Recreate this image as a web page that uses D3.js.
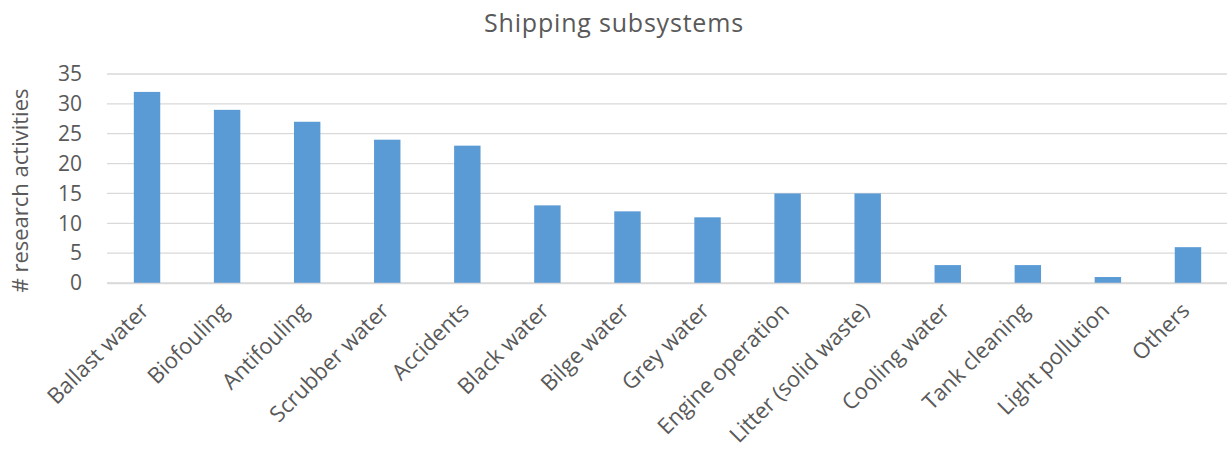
<!DOCTYPE html>
<html>
<head>
<meta charset="utf-8">
<script src="https://cdn.jsdelivr.net/npm/d3@7"></script>
<style>
  html, body { margin: 0; padding: 0; background: #fff; }
  svg { display: block; font-family: "Open Sans", "Liberation Sans", sans-serif; }
</style>
</head>
<body>
<svg id="chart" width="1227" height="463"></svg>
<script>
// Research activities per shipping subsystem
const categories = [
  "Ballast water", "Biofouling", "Antifouling", "Scrubber water", "Accidents",
  "Black water", "Bilge water", "Grey water", "Engine operation",
  "Litter (solid waste)", "Cooling water", "Tank cleaning", "Light pollution", "Others"
];
const activities = [32, 29, 27, 24, 23, 13, 12, 11, 15, 15, 3, 3, 1, 6];
const yTicks = [0, 5, 10, 15, 20, 25, 30, 35];

const W = 1227, H = 463;
const margin = { top: 74, right: -1, bottom: 180, left: 107 };
const textColor = "#595959";

const svg = d3.select("#chart");

const x = d3.scaleBand()
  .domain(categories)
  .range([margin.left, W - margin.right])
  .paddingInner(0.67)
  .paddingOuter(0.335);

const y = d3.scaleLinear()
  .domain([0, 35])
  .range([H - margin.bottom, margin.top]);

// Horizontal gridlines
svg.append("g")
  .selectAll("line")
  .data(yTicks)
  .join("line")
  .attr("x1", margin.left)
  .attr("x2", W)
  .attr("y1", d => y(d))
  .attr("y2", d => y(d))
  .attr("stroke", "#d9d9d9")
  .attr("stroke-width", 1.3);

// Y axis tick labels
const yAxis = d3.axisLeft(y).tickValues(yTicks).tickSize(0).tickPadding(0);
const gy = svg.append("g")
  .attr("transform", `translate(82,0)`)
  .call(yAxis);
gy.select(".domain").remove();
gy.selectAll("text")
  .attr("fill", textColor)
  .attr("font-size", 21)
  .attr("font-family", "Open Sans, sans-serif");

// Bars
svg.append("g")
  .selectAll("rect")
  .data(categories.map((c, i) => ({ c, v: activities[i] })))
  .join("rect")
  .attr("x", d => x(d.c))
  .attr("width", x.bandwidth())
  .attr("y", d => y(d.v))
  .attr("height", d => y(0) - y(d.v))
  .attr("fill", "#5b9bd5");

// Category axis with rotated labels
const xAxis = d3.axisBottom(x).tickSize(0).tickPadding(0);
const gx = svg.append("g")
  .attr("transform", `translate(0,${y(0)})`)
  .call(xAxis);
gx.select(".domain")
  .attr("stroke", "#d9d9d9")
  .attr("stroke-width", 1.3);
gx.selectAll("text")
  .attr("fill", textColor)
  .attr("font-size", 22)
  .attr("font-family", "Open Sans, sans-serif")
  .attr("text-anchor", "end")
  .attr("dy", null)
  .attr("y", 0)
  .attr("transform", "translate(3,29) rotate(-45)");

// Y axis title
svg.append("text")
  .attr("transform", `translate(28,${(y(0) + y(35)) / 2 + 12}) rotate(-90)`)
  .attr("text-anchor", "middle")
  .attr("fill", textColor)
  .attr("font-size", 22)
  .text("# research activities");

// Chart title
svg.append("text")
  .attr("x", 614)
  .attr("y", 32)
  .attr("text-anchor", "middle")
  .attr("fill", textColor)
  .attr("font-size", 25)
  .attr("letter-spacing", 0.8)
  .text("Shipping subsystems");
</script>
</body>
</html>
